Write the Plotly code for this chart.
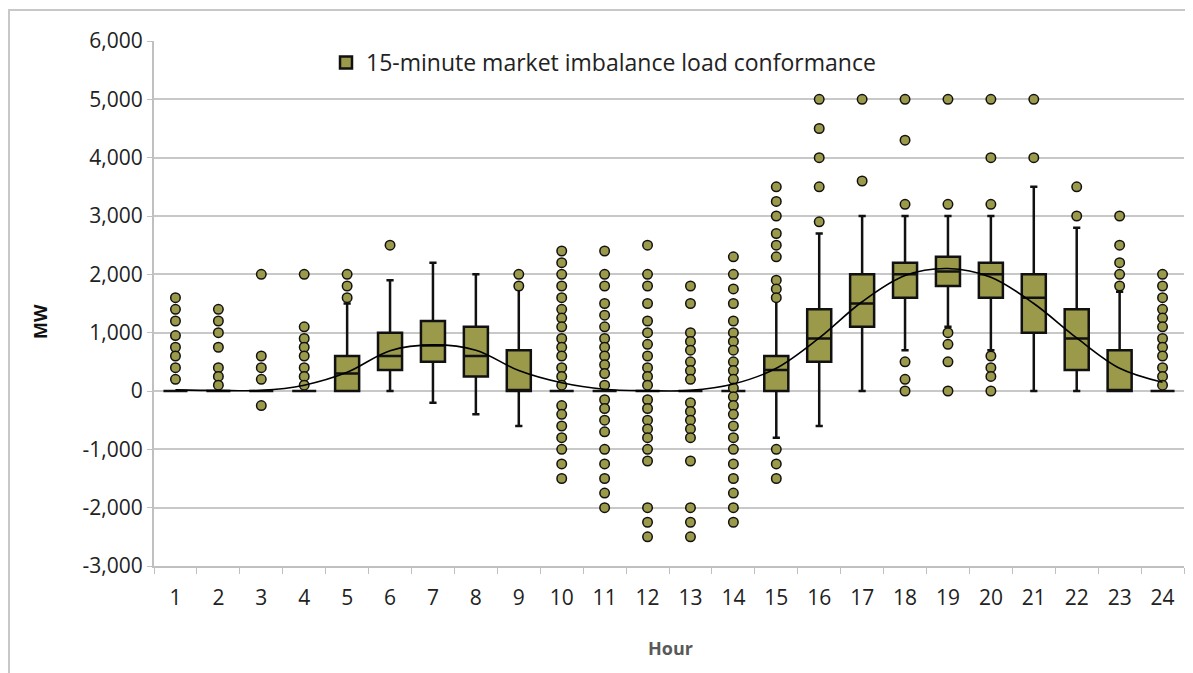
import plotly.graph_objects as go

hours = ["1", "2", "3", "4", "5", "6", "7", "8", "9", "10", "11", "12",
         "13", "14", "15", "16", "17", "18", "19", "20", "21", "22", "23", "24"]

q1 = [0, 0, 0, 0, 0, 360, 500, 250, 0, 0, 0, 0, 0, 0, 0, 500, 1100, 1600, 1800, 1600, 1000, 360, 0, 0]
median = [0, 0, 0, 0, 300, 600, 780, 600, 0, 0, 0, 0, 0, 0, 360, 900, 1500, 2000, 2050, 2000, 1600, 900, 0, 0]
q3 = [0, 0, 0, 0, 600, 1000, 1200, 1100, 700, 0, 0, 0, 0, 0, 600, 1400, 2000, 2200, 2300, 2200, 2000, 1400, 700, 0]
lower_whisker = [0, 0, 0, 0, 0, 0, -200, -400, -600, 0, 0, 0, 0, 0, -800, -600, 0, 700, 1100, 700, 0, 0, 0, 0]
upper_whisker = [0, 0, 0, 0, 1500, 1900, 2200, 2000, 1750, 0, 0, 0, 0, 0, 1550, 2700, 3000, 3000, 3000, 3000, 3500, 2800, 1700, 0]

mean_line = [20, 10, 10, 100, 320, 690, 790, 700, 350, 140, 30, 5, 10, 120, 390, 910, 1530, 1980, 2100, 1950, 1500, 910, 390, 150]

outliers = [
    [1600, 1400, 1200, 950, 750, 600, 400, 200],
    [1400, 1200, 1000, 750, 400, 250, 100],
    [2000, 600, 400, 200, -250],
    [2000, 1100, 900, 750, 600, 400, 250, 100],
    [2000, 1800, 1600],
    [2500],
    [],
    [],
    [2000, 1800],
    [2400, 2200, 2000, 1800, 1600, 1400, 1250, 1100, 900, 750, 600, 400, 250, 100,
     -250, -400, -600, -800, -1000, -1250, -1500],
    [2400, 2000, 1800, 1500, 1300, 1100, 900, 750, 600, 450, 300, 100,
     -150, -300, -500, -700, -1000, -1250, -1500, -1750, -2000],
    [2500, 2000, 1800, 1500, 1200, 1000, 800, 600, 400, 250, 100,
     -150, -300, -500, -650, -800, -1000, -1200, -2000, -2250, -2500],
    [1800, 1500, 1000, 850, 700, 500, 350, 200,
     -200, -350, -500, -650, -800, -1200, -2000, -2250, -2500],
    [2300, 2000, 1750, 1500, 1200, 1000, 850, 700, 500, 350, 200, 50,
     -100, -250, -400, -600, -800, -1000, -1250, -1500, -1750, -2000, -2250],
    [3500, 3250, 3000, 2700, 2500, 2300, 1900, 1750, 1600, -1000, -1250, -1500],
    [5000, 4500, 4000, 3500, 2900],
    [5000, 3600],
    [5000, 4300, 3200, 500, 200, 0],
    [5000, 3200, 1000, 800, 500, 0],
    [5000, 4000, 3200, 600, 400, 250, 0],
    [5000, 4000],
    [3500, 3000],
    [3000, 2500, 2200, 2000, 1800],
    [2000, 1800, 1600, 1400, 1250, 1100, 900, 750, 600, 400, 250, 100],
]

y_tick_values = [-3000, -2000, -1000, 0, 1000, 2000, 3000, 4000, 5000, 6000]
y_tick_labels = ["-3,000", "-2,000", "-1,000", "0", "1,000", "2,000", "3,000", "4,000", "5,000", "6,000"]

series_name = "15-minute market imbalance load conformance"

OLIVE = "#9a9a4a"
FONT = "Open Sans"

# page body has an 8px margin; figure coords = window coords - 8
OFF = 8
W, H = 1193 - OFF, 673 - OFF
ML, MT = 154 - OFF, 41 - OFF
PW, PH = 1030, 525
MR = W - ML - PW
MB = H - MT - PH

fig = go.Figure()

fig.add_trace(go.Box(
    x=hours, q1=q1, median=median, q3=q3,
    lowerfence=lower_whisker, upperfence=upper_whisker,
    name=series_name, fillcolor=OLIVE,
    line=dict(color="#111111", width=2.5),
    whiskerwidth=0.3, boxpoints=False, showlegend=True,
    hoverinfo="skip",
))

ox, oy = [], []
for h, vals in zip(hours, outliers):
    for v in vals:
        ox.append(h)
        oy.append(v)

fig.add_trace(go.Scatter(
    x=ox, y=oy, mode="markers", showlegend=False,
    marker=dict(size=9.5, color=OLIVE, line=dict(color="#111111", width=1.5)),
))

fig.add_trace(go.Scatter(
    x=hours, y=mean_line, mode="lines", line_shape="spline",
    line=dict(color="#000000", width=1.6), showlegend=False,
))


def px_x(p):
    return (p - OFF - ML) / PW


def px_y(p):
    return (MT + PH - (p - OFF)) / PH


fig.update_layout(
    width=W, height=H,
    margin=dict(l=ML, r=MR, t=MT, b=MB, autoexpand=False),
    paper_bgcolor="white", plot_bgcolor="white",
    font=dict(family=FONT, size=21, color="#222222"),
    boxgap=0.2,
    legend=dict(
        x=px_x(326), y=px_y(41), xanchor="left", yanchor="top",
        bgcolor="rgba(0,0,0,0)", font=dict(size=23, family=FONT, color="#222222"),
    ),
    xaxis=dict(
        type="category", categoryorder="array", categoryarray=hours,
        range=[-0.5, len(hours) - 0.5],
        showline=True, linecolor="#c0c0c0", linewidth=2,
        ticks="outside", tickson="boundaries", ticklen=6, tickcolor="#c0c0c0",
        showgrid=False, ticklabelstandoff=12,
        tickfont=dict(size=21, family=FONT, color="#222222"),
    ),
    yaxis=dict(
        range=[-3000, 6000], tickvals=y_tick_values, ticktext=y_tick_labels,
        showline=True, linecolor="#c0c0c0", linewidth=2,
        ticks="outside", ticklen=5, tickcolor="#c0c0c0",
        showgrid=True, gridcolor="#c8c8c8", gridwidth=1.5, zeroline=False,
        tickfont=dict(size=21, family=FONT, color="#222222"),
    ),
    shapes=[dict(
        type="rect", xref="paper", yref="paper",
        x0=px_x(9), x1=px_x(1187), y0=px_y(700), y1=px_y(10),
        line=dict(color="#c8c8c8", width=2), fillcolor="rgba(0,0,0,0)", layer="below",
    )],
    annotations=[
        dict(text="<b>MW</b>", xref="paper", yref="paper", x=px_x(40), y=px_y(322),
             xanchor="center", yanchor="middle",
             textangle=-90, showarrow=False, font=dict(size=18, family=FONT, color="#111111")),
        dict(text="<b>Hour</b>", xref="paper", yref="paper", x=px_x(670), y=px_y(648),
             xanchor="center", yanchor="middle",
             showarrow=False, font=dict(size=18, family=FONT, color="#595959")),
    ],
)

fig.write_html("out.html")
